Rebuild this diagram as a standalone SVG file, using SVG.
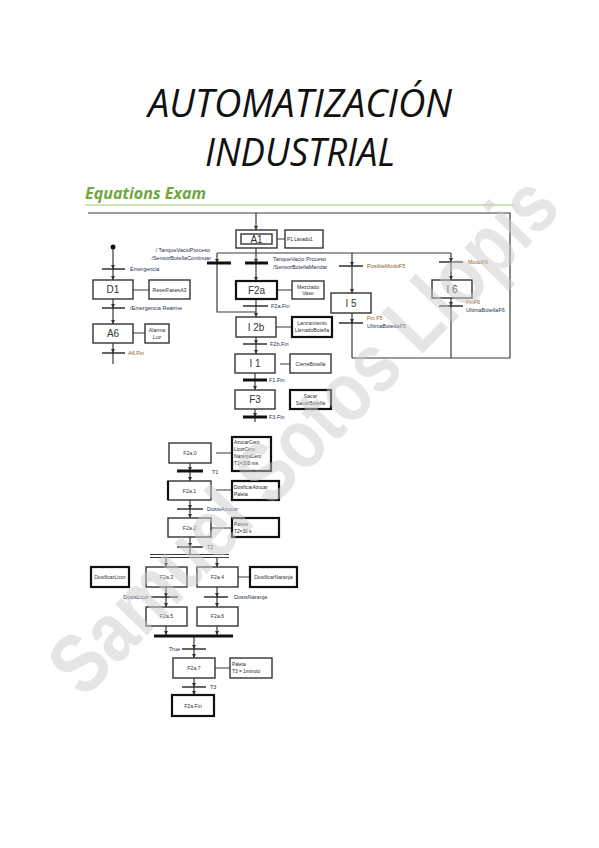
<svg xmlns="http://www.w3.org/2000/svg" width="599" height="848" viewBox="0 0 599 848">
<defs>
<marker id="a" markerWidth="4" markerHeight="4" refX="4" refY="2" orient="auto" markerUnits="userSpaceOnUse"><path d="M0,0 L4,2 L0,4 z" fill="#333"/></marker>
<style>
.ln{fill:none;stroke:#3a3a3a;stroke-width:1.2}
.ar{marker-end:url(#a)}
.bar{stroke:#222;stroke-width:1.4}
.tb{stroke:#111;stroke-width:3}
.bx{fill:#fff;stroke:#333;stroke-width:1.4}
.bk{fill:#fff;stroke:#111;stroke-width:2.2}
.st{font-family:"Liberation Sans",Arial,sans-serif;font-size:10px;fill:#333;text-anchor:middle}
.sm{font-family:"Liberation Sans",Arial,sans-serif;font-size:5.2px;fill:#333;text-anchor:middle}
.ac{font-family:"Liberation Sans",Arial,sans-serif;font-size:4.8px;fill:#222}
.lb{font-family:"Liberation Sans",Arial,sans-serif;font-size:5.5px;fill:#1f3050}
.lo{font-family:"Liberation Sans",Arial,sans-serif;font-size:5.5px;fill:#8a5a20}
</style>
</defs>
<rect width="599" height="848" fill="#fff"/>
<g id="title">
<text x="300" y="117" font-family="'Open Sans',sans-serif" font-style="italic" font-size="38" fill="#111" text-anchor="middle" textLength="304" lengthAdjust="spacingAndGlyphs">AUTOMATIZACIÓN</text>
<text x="300" y="166" font-family="'Open Sans',sans-serif" font-style="italic" font-size="38" fill="#111" text-anchor="middle" textLength="190" lengthAdjust="spacingAndGlyphs">INDUSTRIAL</text>
<text x="85" y="199" font-family="'Open Sans',sans-serif" font-style="italic" font-weight="bold" font-size="16" fill="#6fa83e" textLength="121" lengthAdjust="spacingAndGlyphs">Equations Exam</text>
<line x1="85" y1="205" x2="515" y2="205" stroke="#cfe3b8" stroke-width="2"/>
</g>
<g id="connectors">
<path class="ln" d="M88,213 H510 V358 H352"/>
<path class="ln ar" d="M256,213 V230"/>
<path class="ln" d="M256,248 V253 M217,253 H451"/>
<path class="ln ar" d="M217,253 V263"/>
<path class="ln" d="M217,263 V312 H256"/>
<path class="ln ar" d="M256,253 V263"/>
<path class="ln ar" d="M256,263 V281"/>
<path class="ln" d="M256,299 V306"/>
<path class="ln ar" d="M256,306 V317"/>
<path class="ln ar" d="M256,337 V344"/>
<path class="ln ar" d="M256,344 V354"/>
<path class="ln" d="M255,373 V380"/>
<path class="ln ar" d="M255,380 V390"/>
<path class="ln ar" d="M255,409 V417"/>
<path class="ln" d="M255,417 V422"/>
<path class="ln ar" d="M352,253 V266"/>
<path class="ln ar" d="M352,266 V293"/>
<path class="ln ar" d="M352,313 V323"/>
<path class="ln" d="M352,323 V358"/>
<path class="ln ar" d="M451,253 V262"/>
<path class="ln ar" d="M451,262 V280"/>
<path class="ln ar" d="M451,298 V306"/>
<path class="ln" d="M451,306 V358"/>
<path class="ln ar" d="M113,247 V269"/>
<path class="ln ar" d="M113,269 V280"/>
<path class="ln ar" d="M113,299 V308"/>
<path class="ln ar" d="M113,308 V324"/>
<path class="ln ar" d="M113,343 V353"/>
<path class="ln" d="M113,353 V364"/>
<path class="ln" d="M277,239 H285 M277,290 H292 M276,327 H292 M280,364 H290 M133,290 H149 M133,333 H145"/>
<path class="ln" d="M216,453 H232 M216,490 H232 M211,528 H232 M238,577 H250 M215,668 H230"/>
<path class="ln ar" d="M190,463 V471"/>
<path class="ln ar" d="M190,471 V481"/>
<path class="ln ar" d="M190,500 V509"/>
<path class="ln ar" d="M190,509 V518"/>
<path class="ln ar" d="M190,537 V547"/>
<path class="ln" d="M190,547 V554"/>
<path class="ln" d="M150,554.5 H229 M150,557.5 H229"/>
<path class="ln ar" d="M166,557 V567"/>
<path class="ln ar" d="M217,557 V567"/>
<path class="ln ar" d="M166,587 V597"/>
<path class="ln ar" d="M166,597 V607"/>
<path class="ln ar" d="M217,587 V597"/>
<path class="ln ar" d="M217,597 V607"/>
<path class="ln ar" d="M166,626 V635"/>
<path class="ln ar" d="M217,626 V635"/>
<path class="ln ar" d="M194,637 V649"/>
<path class="ln ar" d="M194,649 V658"/>
<path class="ln ar" d="M194,678 V687"/>
<path class="ln ar" d="M194,687 V695"/>
</g>
<g id="transitions">
<line class="tb" x1="207" y1="263" x2="231" y2="263"/>
<line class="tb" x1="245" y1="263" x2="268" y2="263"/>
<line class="bar" x1="243" y1="306" x2="268" y2="306"/>
<line class="bar" x1="243" y1="344" x2="267" y2="344"/>
<line class="tb" x1="243" y1="380" x2="267" y2="380"/>
<line class="tb" x1="243" y1="417" x2="267" y2="417"/>
<line class="bar" x1="339" y1="266" x2="363" y2="266"/>
<line class="bar" x1="339" y1="323" x2="363" y2="323"/>
<line class="bar" x1="439" y1="262" x2="463" y2="262"/>
<line class="bar" x1="439" y1="306" x2="463" y2="306"/>
<line class="bar" x1="102" y1="269" x2="125" y2="269"/>
<line class="bar" x1="102" y1="308" x2="125" y2="308"/>
<line class="bar" x1="102" y1="353" x2="125" y2="353"/>
<line class="tb" x1="177" y1="471" x2="203" y2="471"/>
<line class="bar" x1="177" y1="509" x2="203" y2="509"/>
<line class="bar" x1="177" y1="547" x2="203" y2="547"/>
<line class="bar" x1="151" y1="597" x2="178" y2="597"/>
<line class="bar" x1="204" y1="597" x2="228" y2="597"/>
<line class="tb" x1="154" y1="636" x2="233" y2="636"/>
<line class="bar" x1="182" y1="649" x2="206" y2="649"/>
<line class="bar" x1="182" y1="687" x2="206" y2="687"/>
<circle cx="113" cy="247" r="2.5" fill="#111"/>
</g>
<g id="labels">
<text class="lb" x="210" y="252" text-anchor="end">/ TanqueVacioProceso</text>
<text class="lb" x="211" y="260" text-anchor="end">/SensorBotellaContinuar</text>
<text class="lb" x="273" y="261">TanqueVacio Proceso</text>
<text class="lb" x="273" y="269">/SensorBotellaMandar</text>
<text class="lb" x="130" y="271">Emergencia</text>
<text class="lb" x="130" y="310">/Emergencia Rearme</text>
<text class="lo" x="128" y="355">A6.Fin</text>
<text class="lb" x="271" y="308">F2a.Fin</text>
<text class="lb" x="270" y="346">F2b.Fin</text>
<text class="lb" x="269" y="382">F1.Fin</text>
<text class="lb" x="269" y="419">F3.Fin</text>
<text class="lo" x="367" y="268">PosibleModoF5</text>
<text class="lo" x="367" y="320">Fin F5</text>
<text class="lb" x="367" y="328">UltimaBotellaF5</text>
<text class="lo" x="468" y="264">ModoF6</text>
<text class="lo" x="466" y="304">FinF6</text>
<text class="lb" x="466" y="312">UltimaBotellaF6</text>
<text class="lb" x="212" y="474">T1</text>
<text class="lb" x="207" y="511">DosisAzucar</text>
<text class="lb" x="207" y="549">T2</text>
<text class="lb" x="149" y="599" text-anchor="end">DosisLicor</text>
<text class="lb" x="234" y="599">DosisNaranja</text>
<text class="lb" x="180" y="651" text-anchor="end">True</text>
<text class="lb" x="210" y="689">T3</text>
</g>
<g id="A1"><rect class="bx" x="236" y="230" width="41" height="18"/><rect class="bx" x="241" y="234" width="31" height="10"/><text class="st" x="256.5" y="243" font-size="9">A1</text></g>
<g id="A1act"><rect class="bx" x="285" y="230" width="38" height="18"/><text class="ac" x="287" y="241">P1 Lavado1</text></g>
<g id="F2a"><rect class="bk" x="236" y="281" width="41" height="18"/><text class="st" x="256.5" y="293.5">F2a</text></g>
<g id="F2aact"><rect class="bx" x="292" y="281" width="32" height="18"/><text class="sm" x="308" y="289">Mezclado</text><text class="sm" x="308" y="295">Vaso</text></g>
<g id="I2b"><rect class="bx" x="236" y="317" width="40" height="20"/><text class="st" x="256" y="330.5">I 2b</text></g>
<g id="I2bact"><rect class="bk" x="292" y="317" width="40" height="20"/><text class="sm" x="312" y="325">Lanzamiento</text><text class="sm" x="312" y="332" font-size="4.6">LlenadoBotella</text></g>
<g id="I1"><rect class="bx" x="235" y="354" width="40" height="19"/><text class="st" x="255" y="367">I 1</text></g>
<g id="I1act"><rect class="bx" x="290" y="354" width="41" height="19"/><text class="sm" x="310.5" y="365.5">CierreBotella</text></g>
<g id="F3"><rect class="bx" x="235" y="390" width="40" height="19"/><text class="st" x="255" y="403">F3</text></g>
<g id="F3act"><rect class="bk" x="290" y="390" width="41" height="19"/><text class="sm" x="310.5" y="398">Sacar</text><text class="sm" x="310.5" y="404.5" font-size="4.6">SacarBotella</text></g>
<g id="I5"><rect class="bx" x="331" y="293" width="40" height="20"/><text class="st" x="351" y="306.5">I 5</text></g>
<g id="I6"><rect class="bx" x="432" y="280" width="40" height="18"/><text class="st" x="452" y="292.5">I 6</text></g>
<g id="D1"><rect class="bx" x="93" y="280" width="40" height="19"/><text class="st" x="113" y="293">D1</text></g>
<g id="D1act"><rect class="bx" x="149" y="280" width="41" height="19"/><text class="sm" x="169.5" y="291.5">ResetFasesA3</text></g>
<g id="A6"><rect class="bx" x="93" y="324" width="40" height="19"/><text class="st" x="113" y="337">A6</text></g>
<g id="A6act"><rect class="bx" x="145" y="324" width="24" height="19"/><text class="sm" x="157" y="332">Alarma</text><text class="sm" x="157" y="339" fill="#8aa8c8">Luz</text></g>
<g id="F2a0"><rect class="bx" x="169" y="443" width="42" height="20"/><text class="sm" x="190" y="455">F2a.0</text></g>
<g id="F2a0act"><rect class="bk" x="232" y="437" width="39" height="34"/><text class="ac" x="234" y="444">AzucarCero</text><text class="ac" x="234" y="451">LicorCero</text><text class="ac" x="234" y="458">NaranjaCero</text><text class="ac" x="234" y="465">T1=300 ms</text></g>
<g id="F2a1"><rect class="bx" x="168" y="481" width="43" height="19"/><line x1="168" y1="481" x2="168" y2="500" stroke="#111" stroke-width="2.2"/><text class="sm" x="189.5" y="492.5" fill="#777">F2a.1</text></g>
<g id="F2a1act"><rect class="bk" x="232" y="481" width="47" height="19"/><text class="ac" x="234" y="488.5">DosificarAzucar</text><text class="ac" x="234" y="495.5">Paleta</text></g>
<g id="F2a2"><rect class="bx" x="168" y="518" width="43" height="19"/><text class="sm" x="189.5" y="529.5" fill="#777">F2a.2</text></g>
<g id="F2a2act"><rect class="bk" x="232" y="518" width="47" height="19"/><text class="ac" x="234" y="525.5">Paleta</text><text class="ac" x="234" y="532.5">T2=30 s</text></g>
<g id="Licor"><rect class="bk" x="91" y="567" width="38" height="20" stroke-width="1.6"/><text class="sm" x="110" y="578.5">DosificarLicor</text></g>
<g id="F2a3"><rect class="bx" x="146" y="567" width="41" height="20"/><text class="sm" x="166.5" y="578.5">F2a.3</text></g>
<g id="F2a4"><rect class="bx" x="197" y="567" width="41" height="20"/><text class="sm" x="217.5" y="578.5" fill="#777">F2a.4</text></g>
<g id="Naranja"><rect class="bk" x="250" y="567" width="47" height="20"/><text class="sm" x="273.5" y="578.5" fill="#777">DosificarNaranja</text></g>
<g id="F2a5"><rect class="bx" x="146" y="607" width="41" height="19"/><text class="sm" x="166.5" y="618" fill="#777">F2a.5</text></g>
<g id="F2a6"><rect class="bx" x="197" y="607" width="41" height="19"/><text class="sm" x="217.5" y="618">F2a.6</text></g>
<g id="F2a7"><rect class="bx" x="173" y="658" width="42" height="20"/><text class="sm" x="194" y="669.5" fill="#777">F2a.7</text></g>
<g id="F2a7act"><rect class="bx" x="230" y="658" width="42" height="20"/><text class="ac" x="232" y="665.5">Paleta</text><text class="ac" x="232" y="672.5">T3 = 1minuto</text></g>
<g id="F2aFin"><rect class="bk" x="172" y="695" width="42" height="21"/><text class="sm" x="193" y="707.5" fill="#777">F2a.Fin</text></g>
<g id="watermark">
<text transform="translate(302,434) rotate(-45.6)" y="30" text-anchor="middle" font-family="'Liberation Sans',Arial,sans-serif" font-weight="bold" font-size="84" fill="#cccccc" fill-opacity="0.5" textLength="685" lengthAdjust="spacingAndGlyphs">Samuel Sotos Llopis</text>
</g>
</svg>
